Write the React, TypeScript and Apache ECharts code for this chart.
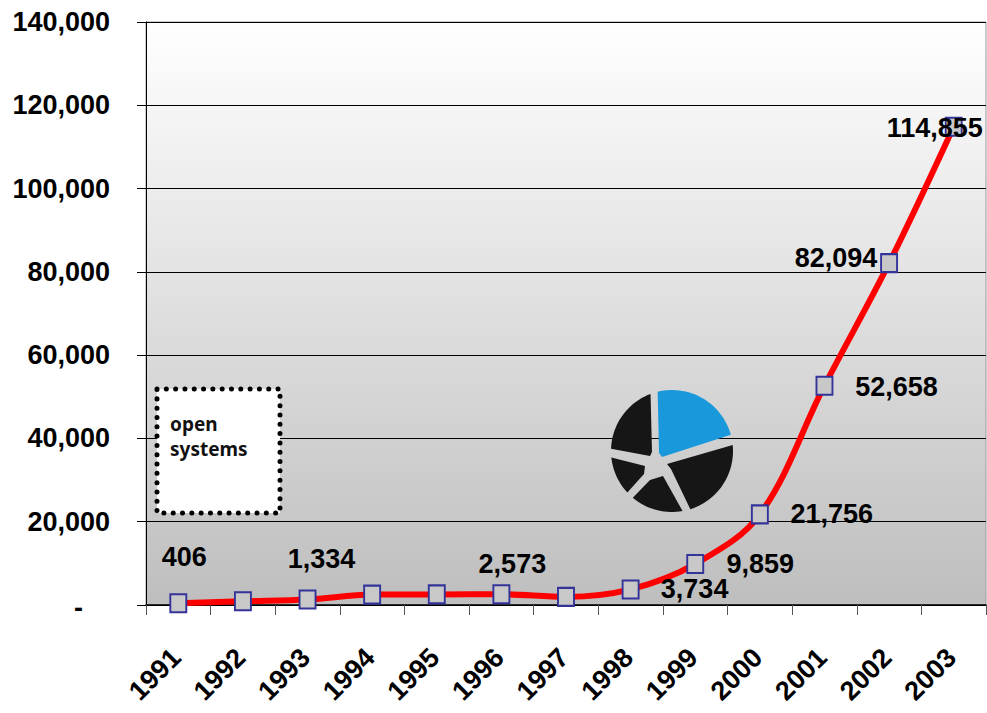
import React, { useEffect, useRef } from 'react';
import * as echarts from 'echarts';

// ---- data ----
const years = ['1991', '1992', '1993', '1994', '1995', '1996', '1997', '1998', '1999', '2000', '2001', '2002', '2003'];
const subscribers = [406, 900, 1334, 2500, 2550, 2573, 1950, 3734, 9859, 21756, 52658, 82094, 114855];
const labelledYears = ['1991', '1993', '1996', '1998', '1999', '2000', '2001', '2002', '2003'];
const yMin = 0;
const yMax = 140000;
const yStep = 20000;

// ---- label placement (style, not data) ----
const labelOffsets: Record<string, [number, number]> = {
  '1991': [6, -46],
  '1993': [14, -40],
  '1996': [11, -30],
  '1998': [64, 0],
  '1999': [65, 0],
  '2000': [72, 0],
  '2001': [72, 1],
  '2002': [-53, -5],
  '2003': [-19, 1],
};

const FONT = "'Liberation Sans', Arial, sans-serif";
const fmt = (v: number) => v.toLocaleString('en-US');

// ---- decorative logo geometry ----
const LOGO_CX = 672;
const LOGO_CY = 451;
const LOGO_R = 61;
type Pt = [number, number];
const slices: { from: number; to: number; inner: Pt[]; color: string }[] = [
  { from: -103.6, to: -15.4, inner: [[662, 457], [659, 453]], color: '#1a98dc' },
  { from: -5.6, to: 72.5, inner: [[671, 469], [667, 464]], color: '#161616' },
  { from: 80, to: 130, inner: [[650, 480], [663, 476]], color: '#161616' },
  { from: 137, to: 174, inner: [[645, 466], [644, 474]], color: '#161616' },
  { from: 182, to: 249.4, inner: [[652, 452], [650, 456]], color: '#161616' },
];

function slicePoints(from: number, to: number, inner: Pt[]): Pt[] {
  const pts: Pt[] = [];
  const steps = Math.max(4, Math.ceil((to - from) / 3));
  for (let i = 0; i <= steps; i++) {
    const a = ((from + ((to - from) * i) / steps) * Math.PI) / 180;
    pts.push([LOGO_CX + LOGO_R * Math.cos(a), LOGO_CY + LOGO_R * Math.sin(a)]);
  }
  return pts.concat(inner);
}

export default function App() {
  const ref = useRef<HTMLDivElement>(null);

  useEffect(() => {
    if (!ref.current) return;
    const chart = echarts.init(ref.current, undefined, { renderer: 'svg' });

    const seriesData = subscribers.map((v, i) => {
      const y = years[i];
      if (labelledYears.includes(y)) {
        return {
          value: v,
          label: {
            show: true,
            position: 'inside',
            offset: labelOffsets[y] || [0, -30],
            formatter: (p: any) => fmt(p.value),
            fontSize: 27,
            fontWeight: 'bold',
            fontFamily: FONT,
            color: '#000',
          },
        };
      }
      return { value: v, label: { show: false } };
    });

    const graphic: any[] = [
      {
        type: 'rect',
        shape: { x: 157, y: 389, width: 123, height: 124 },
        style: {
          fill: '#ffffff',
          stroke: '#000000',
          lineWidth: 5,
          lineDash: [0.01, 9.3],
          lineCap: 'round',
        },
        z: 10,
      },
      {
        type: 'text',
        x: 170,
        y: 411,
        style: {
          text: 'open\nsystems',
          font: "bold 19px 'Noto Sans', sans-serif",
          lineHeight: 25,
          fill: '#111',
          verticalAlign: 'top',
          align: 'left',
        },
        z: 11,
      },
      ...slices.map((s) => ({
        type: 'polygon',
        shape: { points: slicePoints(s.from, s.to, s.inner) },
        style: { fill: s.color },
        z: 10,
      })),
    ];

    const option: any = {
      animation: false,
      backgroundColor: '#ffffff',
      textStyle: { fontFamily: FONT },
      grid: {
        left: 146,
        right: 1,
        top: 22,
        bottom: 108,
        outerBoundsMode: 'none',
        containLabel: false,
        show: true,
        backgroundColor: new echarts.graphic.LinearGradient(0, 0, 0, 1, [
          { offset: 0, color: '#ffffff' },
          { offset: 1, color: '#bebebe' },
        ]),
        borderColor: '#9a9a9a',
        borderWidth: 1,
      },
      xAxis: {
        type: 'category',
        data: years,
        boundaryGap: true,
        axisLine: { show: true, lineStyle: { color: '#000', width: 1.5 } },
        axisTick: { show: true, length: 10, lineStyle: { color: '#555' } },
        axisLabel: {
          interval: 0,
          rotate: 45,
          margin: 46,
          padding: [0, 3, 0, 0],
          fontSize: 27,
          fontWeight: 'bold',
          fontFamily: FONT,
          color: '#000',
        },
        splitLine: { show: false },
      },
      yAxis: {
        type: 'value',
        min: yMin,
        max: yMax,
        interval: yStep,
        axisLine: { show: true, lineStyle: { color: '#000', width: 1 } },
        axisTick: { show: true, length: 9, lineStyle: { color: '#000' } },
        axisLabel: {
          margin: 36,
          fontSize: 27,
          fontWeight: 'bold',
          fontFamily: FONT,
          color: '#000',
          formatter: (v: number) => (v === 0 ? '{z|-}' : fmt(v)),
          rich: {
            z: { fontSize: 27, fontWeight: 'bold', fontFamily: FONT, color: '#000', padding: [6, 27, 0, 0] },
          },
        },
        splitLine: { show: true, lineStyle: { color: '#000', width: 1 } },
      },
      series: [
        {
          type: 'line',
          data: seriesData,
          smooth: 0.35,
          symbol: 'rect',
          symbolSize: [16, 18],
          showAllSymbol: true,
          itemStyle: { color: '#c8c8c8', borderColor: '#333399', borderWidth: 2 },
          lineStyle: { color: '#ff0000', width: 6 },
          emphasis: { disabled: true },
          z: 3,
        },
      ],
      graphic,
    };

    chart.setOption(option);
    return () => chart.dispose();
  }, []);

  return (
    <div
      ref={ref}
      style={{ position: 'absolute', left: 0, top: 0, width: 987, height: 713 }}
    />
  );
}
